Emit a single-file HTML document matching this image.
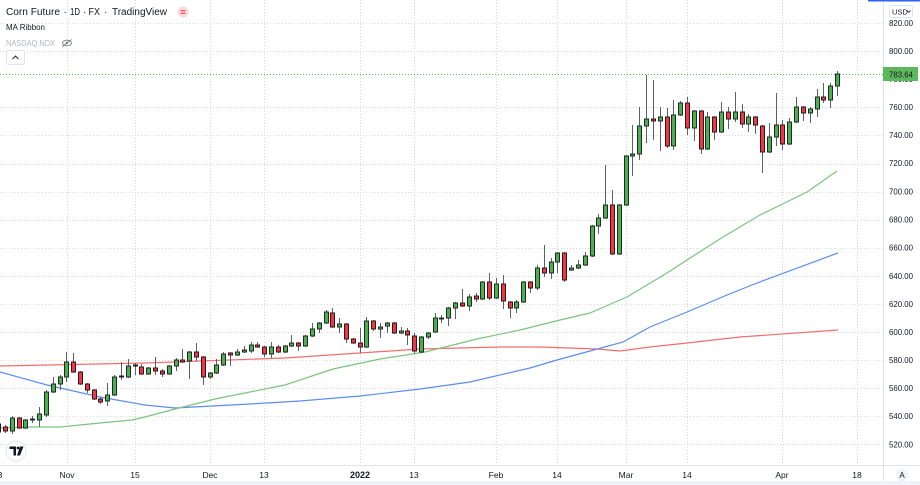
<!DOCTYPE html>
<html><head><meta charset="utf-8"><style>
html,body{margin:0;padding:0;background:#fff;width:920px;height:485px;overflow:hidden}
svg{display:block;font-family:"Liberation Sans","DejaVu Sans",sans-serif}
</style></head><body>
<svg width="920" height="485" viewBox="0 0 920 485" xmlns="http://www.w3.org/2000/svg">
<rect width="920" height="485" fill="#fff"/>
<!-- grid -->
<g stroke="#d6d9e0" stroke-width="1" stroke-dasharray="1 2" fill="none">
<path d="M0 444.5H883M0 416.5H883M0 388.5H883M0 360.5H883M0 332.5H883M0 304.5H883M0 276.5H883M0 248.5H883M0 220.5H883M0 192.5H883M0 164.5H883M0 135.5H883M0 107.5H883M0 51.5H883M0 23.5H883"/>
<path d="M67.5 0V465M135.5 0V465M210.5 0V465M264.5 0V465M360.5 0V465M414.5 0V465M496.5 0V465M557.5 0V465M626.5 0V465M687.5 0V465M782.5 0V465M857.5 0V465"/>
</g>
<!-- last price line -->
<path d="M0 74.5H883" stroke="#4caf50" stroke-width="1" stroke-dasharray="1 2"/>
<!-- moving averages -->
<polyline fill="none" stroke="#f26d6d" stroke-width="1.2" points="0,366 145,363 285,358 420,349 500,347 540,347 597,349 620,351 650,347 687,343 740,337 838,330"/>
<polyline fill="none" stroke="#5b8def" stroke-width="1.2" points="0,372 47,385 100,397 145,405 175,408 250,404 300,401 360,396 420,389 470,382 530,368 557,360 590,351 623,342 650,327 687,312 727,295 757,283 838,253"/>
<polyline fill="none" stroke="#7bc47f" stroke-width="1.2" points="0,428 30,427 60,427 100,423 132,420 145,417 175,409 215,399 285,385 333,369 380,359 425,352 477,339 520,330 540,325 560,320 590,313 613,303 627,297 667,273 687,260 723,237 760,215 807,192 837,171"/>
<!-- wicks -->
<path fill="none" stroke="#5d606b" stroke-width="1" d="M-1.5 420V436M5.5 425V433M12.5 416V434M19.5 417V429M25.5 419V429M32.5 416V423M39.5 407V427M46.5 390V417M53.5 377V393M60.5 375V390M66.5 352V382M73.5 353V373M80.5 371V385M87.5 383V393M94.5 389V400M100.5 397V404M107.5 383V406M114.5 375V396M121.5 362V380M128.5 359V378M135.5 363V375M141.5 364V375M148.5 367V375M155.5 357V375M162.5 369V377M169.5 365V375M176.5 358V371M182.5 349V363M189.5 351V379M196.5 343V361M203.5 356V385M210.5 372V379M216.5 359V374M223.5 352V366M230.5 352V366M237.5 349V356M244.5 346V353M251.5 342V353M257.5 342V348M264.5 346V357M271.5 342V358M278.5 345V353M285.5 345V353M291.5 335V347M298.5 342V351M305.5 335V347M312.5 323V337M319.5 322V333M326.5 310V324M332.5 308V328M339.5 318V333M346.5 323V343M353.5 338V344M360.5 328V353M366.5 317V348M373.5 320V331M380.5 323V338M387.5 322V333M394.5 322V334M401.5 327V334M407.5 328V345M414.5 333V353M421.5 336V353M428.5 332V339M435.5 313V333M441.5 315V323M448.5 307V326M455.5 302V319M462.5 289V307M469.5 294V311M476.5 293V302M482.5 281V300M489.5 273V300M496.5 278V299M503.5 275V309M510.5 301V318M516.5 300V313M523.5 281V303M530.5 281V293M537.5 265V290M544.5 245V277M551.5 258V279M557.5 252V273M564.5 252V282M571.5 265V271M578.5 260V269M585.5 252V266M592.5 225V257M598.5 214V234M605.5 165V219M612.5 190V255M619.5 204V255M626.5 155V206M632.5 125V176M639.5 107V160M646.5 75V143M653.5 80V140M660.5 107V151M667.5 108V148M673.5 100V150M680.5 101V116M687.5 97V135M694.5 110V141M701.5 110V154M707.5 112V150M714.5 116V140M721.5 102V133M728.5 107V129M735.5 92V122M742.5 104V128M748.5 114V132M755.5 116V134M762.5 125V173M769.5 123V153M776.5 93V146M782.5 120V150M789.5 118V145M796.5 97V123M803.5 106V121M810.5 107V123M817.5 89V117M823.5 83V103M830.5 83V108M837.5 71V96"/>
<!-- green bodies -->
<g fill="#4caf50" stroke="#1f2a22" stroke-width="1">
<rect x="10.5" y="418" width="4" height="13"/><rect x="23.5" y="420" width="4" height="8"/><rect x="30.5" y="419" width="4" height="1"/><rect x="37.5" y="414" width="4" height="6"/><rect x="44.5" y="392" width="4" height="23"/><rect x="51.5" y="384" width="4" height="8"/><rect x="58.5" y="377" width="4" height="7"/><rect x="64.5" y="362" width="4" height="15"/><rect x="105.5" y="395" width="4" height="6"/><rect x="112.5" y="377" width="4" height="18"/><rect x="126.5" y="366" width="4" height="11"/><rect x="146.5" y="368" width="4" height="6"/><rect x="167.5" y="366" width="4" height="8"/><rect x="174.5" y="360" width="4" height="6"/><rect x="187.5" y="352" width="4" height="9"/><rect x="208.5" y="373" width="4" height="4"/><rect x="214.5" y="365" width="4" height="8"/><rect x="221.5" y="354" width="4" height="11"/><rect x="235.5" y="352" width="4" height="3"/><rect x="242.5" y="350" width="4" height="2"/><rect x="249.5" y="345" width="4" height="6"/><rect x="269.5" y="347" width="4" height="7"/><rect x="283.5" y="346" width="4" height="6"/><rect x="289.5" y="343" width="4" height="3"/><rect x="303.5" y="336" width="4" height="10"/><rect x="310.5" y="329" width="4" height="7"/><rect x="317.5" y="323" width="4" height="6"/><rect x="324.5" y="312" width="4" height="11"/><rect x="337.5" y="324" width="4" height="3"/><rect x="364.5" y="321" width="4" height="26"/><rect x="378.5" y="327" width="4" height="2"/><rect x="385.5" y="323" width="4" height="3"/><rect x="399.5" y="331" width="4" height="2"/><rect x="419.5" y="337" width="4" height="15"/><rect x="426.5" y="333" width="4" height="4"/><rect x="433.5" y="318" width="4" height="14"/><rect x="439.5" y="318" width="4" height="1"/><rect x="446.5" y="308" width="4" height="10"/><rect x="453.5" y="303" width="4" height="5"/><rect x="467.5" y="297" width="4" height="9"/><rect x="480.5" y="282" width="4" height="17"/><rect x="494.5" y="284" width="4" height="14"/><rect x="514.5" y="302" width="4" height="6"/><rect x="521.5" y="282" width="4" height="20"/><rect x="535.5" y="268" width="4" height="20"/><rect x="549.5" y="262" width="4" height="11"/><rect x="555.5" y="253" width="4" height="9"/><rect x="569.5" y="268" width="4" height="2"/><rect x="576.5" y="265" width="4" height="3"/><rect x="583.5" y="256" width="4" height="9"/><rect x="590.5" y="226" width="4" height="30"/><rect x="596.5" y="218" width="4" height="8"/><rect x="603.5" y="205" width="4" height="13"/><rect x="617.5" y="205" width="4" height="49"/><rect x="624.5" y="156" width="4" height="49"/><rect x="630.5" y="154" width="4" height="2"/><rect x="637.5" y="126" width="4" height="28"/><rect x="644.5" y="119" width="4" height="7"/><rect x="658.5" y="117" width="4" height="4"/><rect x="671.5" y="115" width="4" height="31"/><rect x="678.5" y="103" width="4" height="12"/><rect x="692.5" y="111" width="4" height="17"/><rect x="705.5" y="117" width="4" height="32"/><rect x="719.5" y="112" width="4" height="20"/><rect x="733.5" y="112" width="4" height="7"/><rect x="746.5" y="117" width="4" height="7"/><rect x="767.5" y="137" width="4" height="15"/><rect x="774.5" y="125" width="4" height="12"/><rect x="787.5" y="122" width="4" height="22"/><rect x="794.5" y="107" width="4" height="15"/><rect x="808.5" y="109" width="4" height="4"/><rect x="815.5" y="97" width="4" height="12"/><rect x="828.5" y="86" width="4" height="14"/><rect x="835.5" y="74" width="4" height="12"/>
</g>
<!-- red bodies -->
<g fill="#f23645" stroke="#2a1a1c" stroke-width="1">
<rect x="-3.5" y="424" width="4" height="8"/><rect x="3.5" y="427" width="4" height="4"/><rect x="17.5" y="418" width="4" height="10"/><rect x="71.5" y="362" width="4" height="10"/><rect x="78.5" y="372" width="4" height="12"/><rect x="85.5" y="384" width="4" height="6"/><rect x="92.5" y="390" width="4" height="9"/><rect x="98.5" y="399" width="4" height="3"/><rect x="119.5" y="376" width="4" height="1"/><rect x="133.5" y="365" width="4" height="1"/><rect x="139.5" y="367" width="4" height="7"/><rect x="153.5" y="368" width="4" height="3"/><rect x="160.5" y="371" width="4" height="3"/><rect x="180.5" y="360" width="4" height="2"/><rect x="194.5" y="352" width="4" height="5"/><rect x="201.5" y="357" width="4" height="20"/><rect x="228.5" y="353" width="4" height="2"/><rect x="255.5" y="345" width="4" height="2"/><rect x="262.5" y="347" width="4" height="7"/><rect x="276.5" y="347" width="4" height="5"/><rect x="296.5" y="343" width="4" height="3"/><rect x="330.5" y="313" width="4" height="14"/><rect x="344.5" y="324" width="4" height="15"/><rect x="351.5" y="339" width="4" height="4"/><rect x="358.5" y="343" width="4" height="4"/><rect x="371.5" y="321" width="4" height="8"/><rect x="392.5" y="323" width="4" height="10"/><rect x="405.5" y="331" width="4" height="4"/><rect x="412.5" y="336" width="4" height="15"/><rect x="460.5" y="303" width="4" height="3"/><rect x="474.5" y="296" width="4" height="3"/><rect x="487.5" y="282" width="4" height="16"/><rect x="501.5" y="284" width="4" height="17"/><rect x="508.5" y="302" width="4" height="6"/><rect x="528.5" y="282" width="4" height="6"/><rect x="542.5" y="268" width="4" height="5"/><rect x="562.5" y="253" width="4" height="27"/><rect x="610.5" y="205" width="4" height="49"/><rect x="651.5" y="119" width="4" height="2"/><rect x="665.5" y="117" width="4" height="29"/><rect x="685.5" y="103" width="4" height="25"/><rect x="699.5" y="111" width="4" height="38"/><rect x="712.5" y="117" width="4" height="15"/><rect x="726.5" y="112" width="4" height="7"/><rect x="740.5" y="112" width="4" height="12"/><rect x="753.5" y="117" width="4" height="8"/><rect x="760.5" y="126" width="4" height="26"/><rect x="780.5" y="125" width="4" height="19"/><rect x="801.5" y="107" width="4" height="6"/><rect x="821.5" y="97" width="4" height="3"/>
</g>
<!-- axes -->
<rect x="884" y="0" width="36" height="481" fill="#fff"/>
<rect x="0" y="466" width="920" height="15" fill="#fff"/>
<path d="M883.5 0V481M0 465.5H920" stroke="#e0e3eb" stroke-width="1"/>
<rect x="0" y="481" width="920" height="4" fill="#f0f3fa"/>
<rect x="868" y="0" width="52" height="1.5" fill="#2962ff"/>
<!-- price labels -->
<g font-size="8.5" fill="#131722">
<text x="889" y="26" textLength="24" lengthAdjust="spacingAndGlyphs">820.00</text>
<text x="889" y="54" textLength="24" lengthAdjust="spacingAndGlyphs">800.00</text>
<text x="889" y="82" textLength="24" lengthAdjust="spacingAndGlyphs">780.00</text>
<text x="889" y="110" textLength="24" lengthAdjust="spacingAndGlyphs">760.00</text>
<text x="889" y="138" textLength="24" lengthAdjust="spacingAndGlyphs">740.00</text>
<text x="889" y="166" textLength="24" lengthAdjust="spacingAndGlyphs">720.00</text>
<text x="889" y="194.5" textLength="24" lengthAdjust="spacingAndGlyphs">700.00</text>
<text x="889" y="222.5" textLength="24" lengthAdjust="spacingAndGlyphs">680.00</text>
<text x="889" y="250.5" textLength="24" lengthAdjust="spacingAndGlyphs">660.00</text>
<text x="889" y="279" textLength="24" lengthAdjust="spacingAndGlyphs">640.00</text>
<text x="889" y="307" textLength="24" lengthAdjust="spacingAndGlyphs">620.00</text>
<text x="889" y="335" textLength="24" lengthAdjust="spacingAndGlyphs">600.00</text>
<text x="889" y="363" textLength="24" lengthAdjust="spacingAndGlyphs">580.00</text>
<text x="889" y="391" textLength="24" lengthAdjust="spacingAndGlyphs">560.00</text>
<text x="889" y="419" textLength="24" lengthAdjust="spacingAndGlyphs">540.00</text>
<text x="889" y="447.5" textLength="24" lengthAdjust="spacingAndGlyphs">520.00</text>
</g>
<rect x="883" y="67" width="35" height="14" fill="#5cb85c"/>
<text x="889" y="77.5" font-size="8.5" fill="#131722" textLength="24" lengthAdjust="spacingAndGlyphs">783.64</text>
<!-- USD box -->
<rect x="889.5" y="5.5" width="23" height="12" rx="2" fill="#fff" stroke="#e0e3eb"/>
<text x="892" y="14.5" font-size="7.5" fill="#131722">USD</text>
<path d="M907 10.5l1.8 1.8 1.8-1.8" fill="none" stroke="#131722" stroke-width="0.8"/>
<!-- A button -->
<circle cx="902" cy="475" r="6.5" fill="#f0f3fa"/>
<text x="902" y="478" font-size="8" fill="#131722" text-anchor="middle">A</text>
<!-- time labels -->
<g font-size="8.5" fill="#131722" text-anchor="middle">
<text x="0" y="478">3</text>
<text x="67" y="478">Nov</text>
<text x="135" y="478">15</text>
<text x="210" y="478">Dec</text>
<text x="264" y="478">13</text>
<text x="360" y="478" font-weight="bold" font-size="9">2022</text>
<text x="414" y="478">13</text>
<text x="496" y="478">Feb</text>
<text x="557" y="478">14</text>
<text x="626" y="478">Mar</text>
<text x="687" y="478">14</text>
<text x="782" y="478">Apr</text>
<text x="857" y="478">18</text>
</g>
<!-- TV logo -->
<circle cx="16" cy="451" r="10" fill="#fff" stroke="#e0e3eb"/>
<path d="M9.5 446.5h6.5v9h-2.5v-6.5h-4z" fill="#131722"/>
<circle cx="18" cy="448" r="1.4" fill="#131722"/>
<path d="M20 446.5h3.5l-3.5 9h-3z" fill="#131722"/>
<!-- header -->
<text x="6" y="15" font-size="10" fill="#131722" textLength="54" lengthAdjust="spacingAndGlyphs">Corn Future</text>
<text x="63.5" y="15" font-size="10" fill="#131722">·</text>
<text x="70" y="15" font-size="10" fill="#131722" textLength="10" lengthAdjust="spacingAndGlyphs">1D</text>
<text x="83" y="15" font-size="10" fill="#131722">·</text>
<text x="88.5" y="15" font-size="10" fill="#131722" textLength="11.5" lengthAdjust="spacingAndGlyphs">FX</text>
<text x="104" y="15" font-size="10" fill="#131722">·</text>
<text x="112" y="15" font-size="10" fill="#131722" textLength="55" lengthAdjust="spacingAndGlyphs">TradingView</text>
<circle cx="183" cy="12" r="5.5" fill="#fcd9df"/>
<path d="M180.5 10.8h5M180.5 13.2h5" stroke="#f23645" stroke-width="1"/>
<text x="6" y="30" font-size="8.5" fill="#131722" textLength="39" lengthAdjust="spacingAndGlyphs">MA Ribbon</text>
<text x="6" y="46" font-size="8.5" fill="#b2b5be" textLength="49" lengthAdjust="spacingAndGlyphs">NASDAQ:NDX</text>
<ellipse cx="67" cy="43" rx="4.5" ry="2.8" fill="none" stroke="#787b86" stroke-width="0.9"/>
<circle cx="67" cy="43" r="1.2" fill="#787b86"/>
<path d="M62.5 46.5l9-7" stroke="#787b86" stroke-width="0.9"/>
<rect x="6.5" y="50.5" width="18" height="14" rx="2" fill="#fff" stroke="#e0e3eb"/>
<path d="M12.5 59l3-3 3 3" fill="none" stroke="#131722" stroke-width="0.9"/>
</svg>
</body></html>
